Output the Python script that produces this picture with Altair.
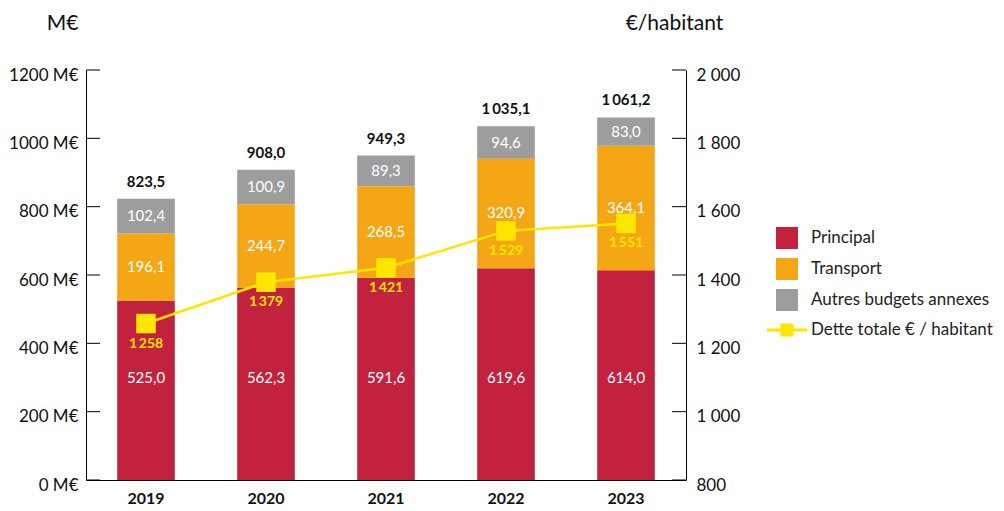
import altair as alt
import pandas as pd

years = ["2019", "2020", "2021", "2022", "2023"]
principal = [525.0, 562.3, 591.6, 619.6, 614.0]
transport = [196.1, 244.7, 268.5, 320.9, 364.1]
autres = [102.4, 100.9, 89.3, 94.6, 83.0]
totals = [823.5, 908.0, 949.3, 1035.1, 1061.2]
dette = [1258, 1379, 1421, 1529, 1551]
series = ["Principal", "Transport", "Autres budgets annexes"]
colors = ["#C3223F", "#F5A614", "#9D9D9D"]
line_name = "Dette totale € / habitant"
yellow = "#FFE600"
left_ticks = [0, 200, 400, 600, 800, 1000, 1200]
right_ticks = [800, 1000, 1200, 1400, 1600, 1800, 2000]
principal_label_anchor = 300


def fr(v, d=1):
    s = f"{v:,.{d}f}"
    return s.replace(",", "\u2009").replace(".", ",")


rows = []
for i, y in enumerate(years):
    start = 0.0
    for k, (name, vals) in enumerate(zip(series, [principal, transport, autres])):
        v = vals[i]
        mid = principal_label_anchor if k == 0 else start + v / 2
        rows.append(dict(year=y, serie=name, order=k, start=start, end=start + v,
                         mid=mid, label=fr(v)))
        start += v
df = pd.DataFrame(rows)
df_tot = pd.DataFrame(dict(year=years, total=totals, label=[fr(t) for t in totals]))
df_line = pd.DataFrame(dict(year=years, dette=dette, serie=line_name,
                            label=[fr(d, 0) for d in dette]))
df_lt = pd.DataFrame(dict(t=left_ticks))
df_rt = pd.DataFrame(dict(t=right_ticks))

FONT = "Lato"
X = alt.X("year:N", scale=alt.Scale(domain=years, paddingInner=0.52, paddingOuter=0.26),
          axis=alt.Axis(title=None, labelFontWeight="bold", labelFontSize=16, labelColor="#111",
                        ticks=False, domainColor="black", labelPadding=10, labelAngle=0))

lscale = alt.Scale(domain=[0, 1200], nice=False, zero=True)
rscale = alt.Scale(domain=[800, 2000], nice=False, zero=False)

laxis = alt.Axis(values=left_ticks, labelExpr="datum.value + ' M€'", ticks=False,
                 domainColor="black", labelPadding=8, labelOffset=5, labelFontSize=17,
                 labelColor="#111", grid=False, title="M€", titleAngle=0, titleX=-24,
                 titleY=-41, titleFontSize=21, titleFontWeight="normal", titleAlign="center",
                 titleBaseline="alphabetic", titleColor="#111", orient="left")
raxis = alt.Axis(values=right_ticks, labelExpr="replace(format(datum.value, ','), ',', ' ')",
                 ticks=False, domainColor="black", labelPadding=10, labelOffset=5,
                 labelFontSize=17, labelColor="#111", grid=False, title="€/habitant",
                 titleAngle=0, titleX=-12, titleY=-41, titleFontSize=21,
                 titleFontWeight="normal", titleAlign="center", titleBaseline="alphabetic",
                 titleColor="#111", orient="right")

bars = alt.Chart(df).mark_bar().encode(
    x=X,
    y=alt.Y("start:Q", scale=lscale, axis=laxis),
    y2="end:Q",
    color=alt.Color("serie:N", scale=alt.Scale(domain=series, range=colors),
                    legend=alt.Legend(title=None, orient="none", legendX=690, legendY=157,
                                      symbolType="square", symbolSize=484, labelFontSize=17,
                                      labelColor="#222", labelOffset=13, rowPadding=9,
                                      padding=0, symbolStrokeWidth=0, labelFont=FONT,
                                      labelLimit=400)),
    order="order:Q",
)
bar_text = alt.Chart(df).mark_text(color="white", fontSize=15, baseline="middle").encode(
    x=X, y=alt.Y("mid:Q", scale=lscale, axis=laxis), text="label:N")
tot_text = alt.Chart(df_tot).mark_text(color="#111", fontSize=15, fontWeight="bold",
                                       baseline="middle", dy=-17).encode(
    x=X, y=alt.Y("total:Q", scale=lscale, axis=laxis), text="label:N")
lticks = alt.Chart(df_lt).mark_rule(color="black", strokeWidth=1).encode(
    y=alt.Y("t:Q", scale=lscale, axis=laxis), x=alt.value(0), x2=alt.value(14))

left = alt.layer(bars, bar_text, tot_text, lticks)

line = alt.Chart(df_line).mark_line(color=yellow, strokeWidth=2.5).encode(
    x=X, y=alt.Y("dette:Q", scale=rscale, axis=raxis))
pts = alt.Chart(df_line).mark_square(size=380, opacity=1, filled=True).encode(
    x=X, y=alt.Y("dette:Q", scale=rscale, axis=raxis),
    fill=alt.Fill("serie:N", scale=alt.Scale(domain=[line_name], range=[yellow]),
                  legend=alt.Legend(title=None, orient="none", legendX=681, legendY=240,
                                    symbolType="M-1,-0.07H1V0.07H-1Z M-0.33,-0.33H0.33V0.33H-0.33Z",
                                    symbolSize=1600, symbolStrokeWidth=0, symbolOpacity=1,
                                    labelFontSize=17, labelColor="#222", labelOffset=4,
                                    padding=0, labelFont=FONT, labelLimit=400)),
)
ltext = alt.Chart(df_line).mark_text(color=yellow, fontSize=14, fontWeight="bold",
                                     baseline="middle", dy=20).encode(
    x=X, y=alt.Y("dette:Q", scale=rscale, axis=raxis), text="label:N")
rticks = alt.Chart(df_rt).mark_rule(color="black", strokeWidth=1).encode(
    y=alt.Y("t:Q", scale=rscale, axis=raxis), x=alt.value(586), x2=alt.value(600))

right = alt.layer(line, pts, ltext, rticks)

chart = alt.layer(left, right).resolve_scale(y="independent").properties(
    width=600, height=410,
    padding={"left": 78, "top": 62, "right": 310, "bottom": 28},
    autosize=alt.AutoSizeParams(type="none"),
).configure(font=FONT).configure_view(stroke=None)

chart.save("out.html", embed_options={"renderer": "svg", "actions": False})
